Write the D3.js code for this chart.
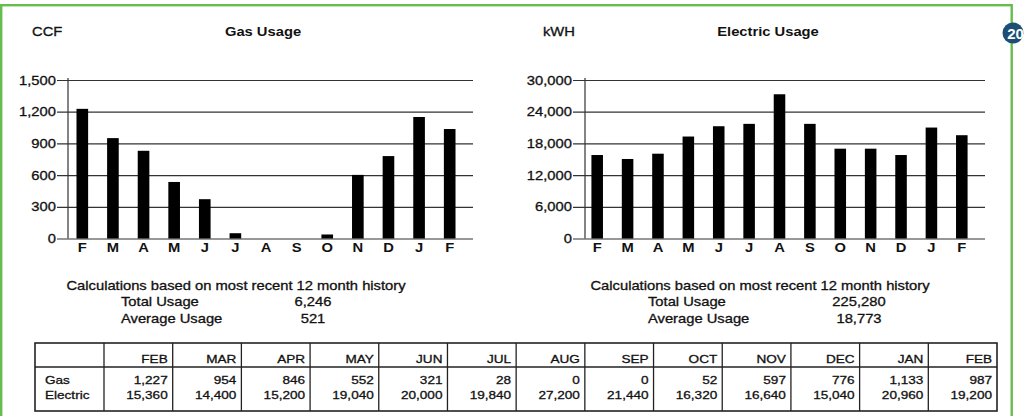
<!DOCTYPE html>
<html><head><meta charset="utf-8">
<script src="https://cdn.jsdelivr.net/npm/d3@7"></script>
<style>
html,body{margin:0;padding:0;background:#fff;}
svg{display:block;font-family:"Liberation Sans",Arial,Helvetica,sans-serif;}
</style></head><body>
<svg id="c" width="1026" height="416"></svg>
<script>
// ---- data ----
const months = ["F","M","A","M","J","J","A","S","O","N","D","J","F"];
const gasBars = [1227, 950, 830, 535, 372, 50, 0, 0, 38, 602, 780, 1150, 1036];
const elecBars = [15800, 15050, 16050, 19300, 21250, 21700, 27300, 21700, 17000, 17000, 15800, 21000, 19550];
const gasTicks = [0, 300, 600, 900, 1200, 1500];
const elecTicks = [0, 6000, 12000, 18000, 24000, 30000];
const tableMonths = ["FEB","MAR","APR","MAY","JUN","JUL","AUG","SEP","OCT","NOV","DEC","JAN","FEB"];
const tableRows = ["Gas", "Electric"];
const gasTable = [1227, 954, 846, 552, 321, 28, 0, 0, 52, 597, 776, 1133, 987];
const elecTable = [15360, 14400, 15200, 19040, 20000, 19840, 27200, 21440, 16320, 16640, 15040, 20960, 19200];
const statLabels = ["Total Usage", "Average Usage"];
const gasStats = [6246, 521];
const elecStats = [225280, 18773];
const calcNote = "Calculations based on most recent 12 month history";

// ---- drawing ----
const SX = 1.18;
const fmt = d3.format(",");
const svg = d3.select("#c");
svg.append("rect").attr("width",1026).attr("height",416).attr("fill","#fff");

function heavy(sel) {
  return sel.attr("stroke", "#111").attr("stroke-width", 0.3).attr("paint-order", "stroke");
}

function label(g, x, y, s, o = {}) {
  const t = g.append("text")
    .attr("transform", `translate(${x},${y}) scale(${SX},1)`)
    .attr("text-anchor", o.anchor || "start")
    .attr("font-size", o.size || 12.5)
    .attr("font-weight", o.weight || "normal")
    .attr("fill", "#111")
    .text(s);
  if (!o.weight) heavy(t);
  return t;
}

function chart(cfg) {
  const g = svg.append("g");
  const x = d3.scaleBand().domain(d3.range(months.length))
    .range([cfg.x0, cfg.x1]).paddingInner(0.62).paddingOuter(0.31);
  const y = d3.scaleLinear().domain([0, cfg.ticks[cfg.ticks.length - 1]]).range([238.5, 80]);

  const ya = g.append("g").attr("transform", `translate(${cfg.tickX},0)`)
    .call(d3.axisLeft(y).tickValues(cfg.ticks).tickSize(-(cfg.gridEnd - cfg.tickX))
      .tickPadding(1).tickFormat(fmt));
  ya.attr("font-family", null).attr("font-size", null);
  ya.select(".domain").remove();
  ya.selectAll(".tick line").attr("stroke", "#333").attr("stroke-width", 1.2);
  heavy(ya.selectAll(".tick text").attr("font-size", 12.5).attr("fill", "#111")
    .attr("transform", `scale(${SX},1)`));

  g.append("line").attr("x1", cfg.axisX).attr("x2", cfg.axisX)
    .attr("y1", 78).attr("y2", y(0)).attr("stroke", "#333").attr("stroke-width", 1.2);

  g.selectAll("rect.bar").data(cfg.values).join("rect").attr("class", "bar")
    .attr("x", (d, i) => x(i)).attr("width", x.bandwidth())
    .attr("y", d => y(d)).attr("height", d => y(0) - y(d)).attr("fill", "#000");

  const xa = g.append("g").attr("transform", `translate(0,${y(0)})`)
    .call(d3.axisBottom(x).tickSize(0).tickPadding(5).tickFormat(i => months[i]));
  xa.attr("font-family", null).attr("font-size", null);
  xa.select(".domain").remove();
  xa.selectAll("text").attr("font-size", 12.5).attr("font-weight", "bold").attr("fill", "#111")
    .attr("transform", `scale(${SX},1)`);

  label(svg, cfg.unitX, 36, cfg.unit);
  label(svg, cfg.titleX, 36, cfg.title, {anchor: "middle", weight: "bold"});

  label(svg, cfg.noteX, 289.5, calcNote, {anchor: "middle"});
  statLabels.forEach((s, i) => {
    label(svg, cfg.statLX, 306 + i * 17, s);
    label(svg, cfg.statVX, 306 + i * 17, fmt(cfg.stats[i]), {anchor: "middle"});
  });
}

chart({values: gasBars, ticks: gasTicks, x0: 67, x1: 465, tickX: 57, gridEnd: 473, axisX: 68,
  unit: "CCF", unitX: 32, title: "Gas Usage", titleX: 263,
  noteX: 236, statLX: 121, statVX: 313, stats: gasStats});
chart({values: elecBars, ticks: elecTicks, x0: 582, x1: 977, tickX: 573, gridEnd: 985, axisX: 585,
  unit: "kWH", unitX: 543, title: "Electric Usage", titleX: 768,
  noteX: 760, statLX: 648, statVX: 859, stats: elecStats});

// ---- table ----
const tX0 = 35, tX1 = 997, firstW = 69, tTop = 343, tMid = 367, tBot = 411;
const colX = d3.scaleLinear().domain([0, tableMonths.length]).range([tX0 + firstW, tX1]);
const tg = svg.append("g");
tg.append("rect").attr("x", tX0).attr("y", tTop).attr("width", tX1 - tX0).attr("height", tBot - tTop)
  .attr("fill", "none").attr("stroke", "#222").attr("stroke-width", 1.6);
tg.append("line").attr("x1", tX0).attr("x2", tX1).attr("y1", tMid).attr("y2", tMid)
  .attr("stroke", "#222").attr("stroke-width", 1.3);
tg.selectAll("line.col").data(d3.range(tableMonths.length)).join("line").attr("class", "col")
  .attr("x1", i => colX(i)).attr("x2", i => colX(i)).attr("y1", tTop).attr("y2", tBot)
  .attr("stroke", "#222").attr("stroke-width", 1.3);
tableMonths.forEach((m, i) => {
  const r = colX(i + 1) - 5;
  label(tg, r, 363, m, {anchor: "end", size: 11.5});
  label(tg, r, 383.5, fmt(gasTable[i]), {anchor: "end", size: 11.5});
  label(tg, r, 398.5, fmt(elecTable[i]), {anchor: "end", size: 11.5});
});
tableRows.forEach((s, i) => label(tg, 45, 383.5 + i * 15, s, {size: 11.5}));

// ---- frame & badge ----
svg.append("rect").attr("x", 1.2).attr("y", 5.2).attr("width", 1010.5).attr("height", 430)
  .attr("fill", "none").attr("stroke", "#66bd4e").attr("stroke-width", 2.4);
svg.append("circle").attr("cx", 1013).attr("cy", 33).attr("r", 10.5).attr("fill", "#1c4f73");
svg.append("text").attr("x", 1015.5).attr("y", 38.5).attr("text-anchor", "middle")
  .attr("font-size", 15).attr("font-weight", "bold").attr("fill", "#fff").text("20");
</script>
</body></html>
